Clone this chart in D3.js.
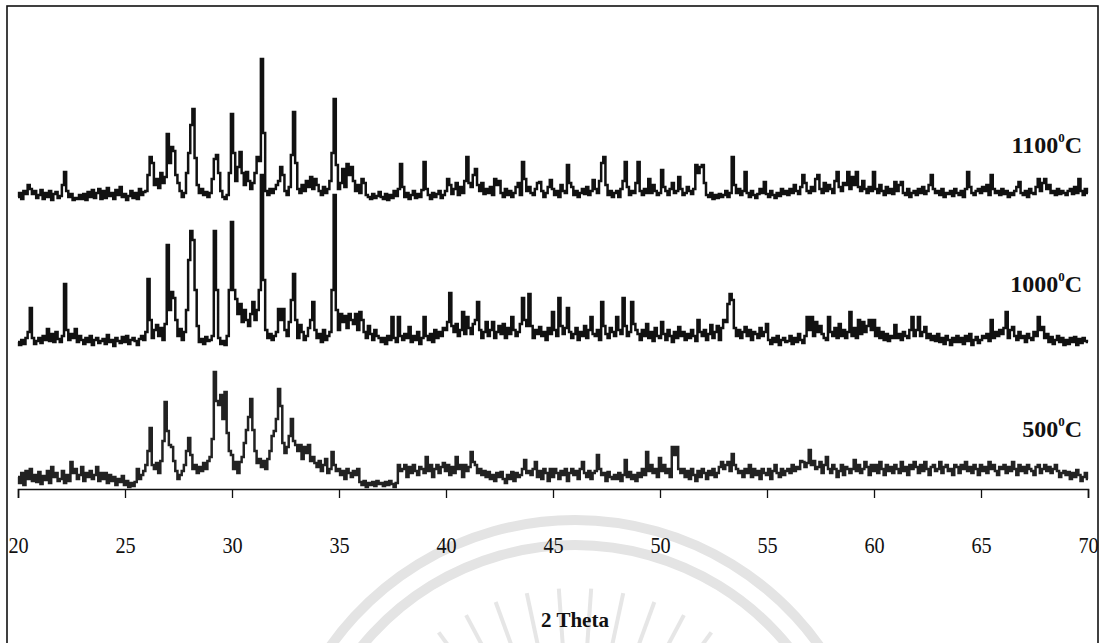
<!DOCTYPE html>
<html>
<head>
<meta charset="utf-8">
<script src="https://cdn.jsdelivr.net/npm/d3@7"></script>
<style>
  html, body { margin: 0; padding: 0; background: #fff; }
  svg { display: block; }
</style>
</head>
<body>
<svg id="chart" width="1104" height="643"></svg>
<script>
// scan: first angle and step in degrees 2-theta
var scanStart = 20, scanStep = 0.1;
var tickValues = [20, 25, 30, 35, 40, 45, 50, 55, 60, 65, 70];
var sampleTemps = ["1100", "1000", "500"];

// intensities (a.u.), one value per 0.1 deg, rows = 1 degree
var int1100 = [
  6,10,4,12,9,18,14,9,12,5,
  8,13,4,10,6,12,3,9,11,5,
  7,18,31,12,6,9,3,5,4,8,
  4,9,3,11,6,13,5,10,14,4,
  12,5,15,7,10,4,13,8,16,6,
  9,3,7,12,5,10,4,14,8,11,
  12,28,46,40,18,24,15,30,20,26,
  69,40,56,52,28,20,12,6,10,30,
  50,78,94,45,18,10,14,8,11,6,
  10,24,44,48,30,12,6,4,8,30,
  89,50,22,36,51,30,18,31,22,14,
  20,30,46,42,144,70,12,8,14,10,
  14,18,22,36,28,12,8,16,48,91,
  40,14,10,18,12,22,16,26,14,24,
  18,12,8,16,10,14,22,50,104,38,
  14,20,34,16,39,28,36,22,12,18,
  10,24,20,8,6,4,9,5,7,11,
  6,4,9,3,8,5,12,7,14,39,
  16,6,10,4,8,12,5,9,6,13,
  41,14,8,4,10,6,9,12,5,8,
  12,24,18,9,14,20,8,16,10,22,
  46,20,16,28,34,18,12,20,9,14,
  10,16,8,24,18,22,10,6,14,8,
  12,6,10,16,20,8,41,24,12,16,
  10,8,14,20,21,12,6,10,16,23,
  14,8,12,6,18,12,10,38,20,16,
  8,12,6,10,14,9,16,8,12,23,
  14,10,22,40,46,18,8,12,6,10,
  12,6,14,22,41,16,8,12,10,20,
  41,12,8,14,10,24,10,18,12,8,
  10,33,16,12,8,14,20,10,12,26,
  14,8,10,16,12,9,14,38,30,36,
  38,20,8,6,10,4,8,5,9,6,
  8,12,6,10,46,18,10,14,8,12,
  31,10,6,12,8,5,9,14,10,21,
  9,6,12,8,5,10,7,14,9,12,
  8,14,10,18,12,9,16,28,20,12,
  10,16,12,24,28,14,10,20,12,18,
  14,10,22,31,16,12,20,18,31,14,
  26,18,31,16,12,22,14,10,16,12,
  31,14,10,18,12,8,16,10,14,9,
  21,12,18,21,10,8,14,6,10,12,
  8,14,10,16,9,12,18,28,14,10,
  12,8,14,6,10,9,12,7,14,10,
  8,12,6,14,31,16,10,8,12,14,
  10,16,12,18,8,28,14,10,12,8,
  14,9,12,6,10,8,12,16,21,10,
  8,12,6,14,10,9,16,24,12,20,
  24,14,18,10,12,8,14,9,12,10,
  8,12,14,9,16,10,24,12,8,14,
  10
];

var int1000 = [
  8,5,10,6,12,18,42,12,6,9,
  12,7,14,10,21,9,16,8,18,11,
  8,14,66,20,10,16,12,21,8,14,
  10,6,12,8,14,5,10,12,7,9,
  11,6,15,8,10,4,12,9,7,13,
  8,14,6,10,12,9,5,11,14,10,
  18,71,30,12,20,25,14,22,10,26,
  105,40,58,52,30,14,21,10,18,40,
  90,119,110,60,24,8,11,6,13,9,
  10,14,119,60,12,6,9,5,14,60,
  128,60,51,36,46,28,40,30,24,36,
  48,30,40,60,175,70,20,12,16,10,
  14,18,41,30,41,20,14,28,50,76,
  30,12,25,18,10,14,22,30,48,20,
  12,16,8,20,10,14,18,60,155,40,
  20,36,28,34,22,36,30,26,36,20,
  38,30,18,12,24,16,10,20,14,12,
  8,12,6,14,10,33,12,8,33,14,
  10,16,12,23,8,14,10,18,6,12,
  33,14,10,16,8,20,12,18,14,22,
  20,28,57,24,18,26,14,20,38,16,
  33,22,16,26,30,48,20,12,18,28,
  14,20,28,12,18,24,16,26,12,22,
  16,33,20,14,18,26,52,30,24,56,
  24,12,20,16,23,14,18,10,22,16,
  38,20,14,52,24,16,22,42,18,12,
  16,22,10,18,14,24,12,20,33,16,
  14,20,10,48,24,16,12,22,18,14,
  33,20,16,52,24,14,18,48,26,20,
  16,10,20,14,26,12,18,9,22,14,
  12,28,16,10,20,14,8,18,12,23,
  14,18,10,16,12,20,14,9,30,18,
  14,20,10,16,25,12,18,24,10,22,
  30,28,46,56,50,22,14,20,12,18,
  23,14,20,10,18,16,12,22,14,18,
  26,10,6,12,8,14,5,10,12,8,
  9,14,6,12,8,16,10,7,14,33,
  20,33,14,28,18,24,16,12,10,33,
  18,14,22,12,26,14,20,12,18,38,
  14,22,12,30,16,28,18,24,30,20,
  30,14,22,12,18,10,16,9,14,12,
  25,12,16,10,18,14,12,20,33,14,
  20,33,14,18,23,12,16,10,14,9,
  16,8,12,6,14,10,5,12,8,14,
  8,12,6,14,9,16,5,10,13,7,
  10,14,12,16,9,30,12,18,14,20,
  16,22,38,12,20,23,14,10,18,12,
  14,8,16,12,10,18,14,33,20,23,
  12,16,8,13,6,10,14,8,12,5,
  10,6,12,8,13,5,11,7,12,9,
  8
];

var int500 = [
  14,8,18,6,20,12,22,10,16,9,
  19,7,15,11,20,8,24,14,18,10,
  12,20,8,16,10,29,18,22,12,16,
  24,10,18,14,20,12,16,24,10,18,
  12,18,8,16,10,14,6,12,9,15,
  6,10,4,8,5,9,22,12,16,20,
  26,40,63,26,22,28,18,30,50,89,
  60,46,44,30,20,12,16,20,26,40,
  53,36,22,26,18,24,20,28,22,30,
  34,52,119,90,86,96,72,99,58,40,
  36,22,29,18,29,34,48,61,74,92,
  61,40,28,32,24,30,22,32,40,55,
  60,72,102,85,48,38,44,55,72,50,
  46,40,46,32,44,38,46,30,34,28,
  24,30,20,26,32,18,22,39,26,20,
  22,16,20,12,22,18,14,20,16,22,
  9,6,10,4,8,6,9,5,10,7,
  8,5,9,6,10,7,4,8,26,20,
  22,26,14,24,18,26,20,16,24,22,
  18,34,20,26,14,22,26,18,24,28,
  20,26,16,24,18,34,22,26,14,26,
  20,24,39,29,26,18,22,16,20,14,
  19,12,16,10,18,14,19,12,8,16,
  12,19,10,18,14,16,22,31,18,20,
  16,22,29,14,20,12,22,18,10,22,
  14,22,18,12,20,16,22,10,18,22,
  16,20,12,22,29,18,14,20,12,18,
  20,36,22,16,18,10,19,14,12,16,
  12,18,10,16,31,14,19,12,16,10,
  18,14,22,16,39,20,26,18,22,14,
  33,20,26,18,22,14,44,36,44,22,
  18,22,14,20,12,22,16,10,20,14,
  22,18,12,20,16,22,14,18,24,29,
  22,26,29,20,37,26,22,18,20,14,
  22,18,26,14,22,16,20,12,22,18,
  16,22,12,20,26,18,14,22,16,20,
  22,18,26,20,24,22,30,29,24,28,
  41,26,30,22,24,29,18,26,34,22,
  18,26,22,14,20,26,16,24,22,18,
  22,31,20,26,18,22,29,24,16,26,
  20,26,18,29,22,16,26,20,24,18,
  26,22,18,29,20,24,16,26,22,29,
  24,18,26,20,29,22,16,24,26,20,
  22,29,18,24,26,20,22,16,26,24,
  18,26,22,29,20,24,18,26,22,16,
  26,20,24,18,29,22,26,20,16,24,
  22,26,18,24,20,29,22,16,26,20,
  24,18,26,22,20,16,24,26,18,22,
  26,20,24,18,22,26,20,14,18,20,
  16,19,12,18,14,21,16,10,14,18,
  12
];

var svg = d3.select("#chart");
var serif = "'Liberation Serif', 'Times New Roman', serif";

// faint seal watermark from the scanned page
var wm = svg.append("g").attr("transform", "translate(575,820)");
[300, 275].forEach(function (r) {
    wm.append("path")
        .attr("d", d3.arc()({ innerRadius: r - 5, outerRadius: r + 5, startAngle: -1.1, endAngle: 1.1 }))
        .style("fill", "#e4e4e4");
});
d3.range(-36, 37, 8).forEach(function (a) {
    var t = a * Math.PI / 180;
    wm.append("line")
        .attr("x1", 175 * Math.sin(t)).attr("y1", -175 * Math.cos(t))
        .attr("x2", 232 * Math.sin(t)).attr("y2", -232 * Math.cos(t))
        .style("stroke", "#e6e6e6")
        .style("stroke-width", 4);
});

// frame
svg.append("rect")
    .attr("x", 7).attr("y", 6).attr("width", 1091).attr("height", 660)
    .style("fill", "none").style("stroke", "#111").style("stroke-width", 1.6);

var x = d3.scaleLinear().domain([20, 70]).range([18, 1088]);
var y = d3.scaleLinear().domain([0, 150]).range([0, -150]);

// x axis
var axis = svg.append("g").attr("transform", "translate(0,489)")
    .call(d3.axisBottom(x).tickValues(tickValues).tickSize(9).tickPadding(39));
axis.select(".domain").style("stroke", "#111").style("stroke-width", 1.6);
axis.selectAll(".tick line").style("stroke", "#111").style("stroke-width", 1.3);
axis.selectAll(".tick text")
    .attr("transform", "scale(0.88,1)")
    .style("font-family", serif).style("font-size", "23px").style("fill", "#111");

svg.append("text")
    .attr("x", 575).attr("y", 627)
    .attr("text-anchor", "middle")
    .style("font-family", serif).style("font-size", "21px").style("font-weight", "bold")
    .style("fill", "#111")
    .text("2 Theta");

var series = [
    { temp: sampleTemps[0], values: int1100, base: 203, labelY: 153, color: "#111" },
    { temp: sampleTemps[1], values: int1000, base: 350, labelY: 292, color: "#111" },
    { temp: sampleTemps[2], values: int500, base: 491, labelY: 437, color: "#222" }
];

var line = d3.line()
    .x(function (d, i) { return x(scanStart + i * scanStep); })
    .y(function (d) { return y(d); })
    .curve(d3.curveStep);

series.forEach(function (s) {
    var g = svg.append("g").attr("transform", "translate(0," + s.base + ")");
    g.append("path")
        .datum(s.values)
        .attr("d", line)
        .style("fill", "none")
        .style("stroke", s.color)
        .style("stroke-width", 2.5)
        .style("stroke-linejoin", "miter");

    var label = svg.append("text")
        .attr("x", 1082).attr("y", s.labelY)
        .attr("text-anchor", "end")
        .style("font-family", serif).style("font-size", "24px").style("font-weight", "bold")
        .style("fill", "#111");
    label.append("tspan").text(s.temp);
    label.append("tspan").attr("dy", -11).style("font-size", "13px").text("0");
    label.append("tspan").attr("dy", 11).text("C");
});
</script>
</body>
</html>
